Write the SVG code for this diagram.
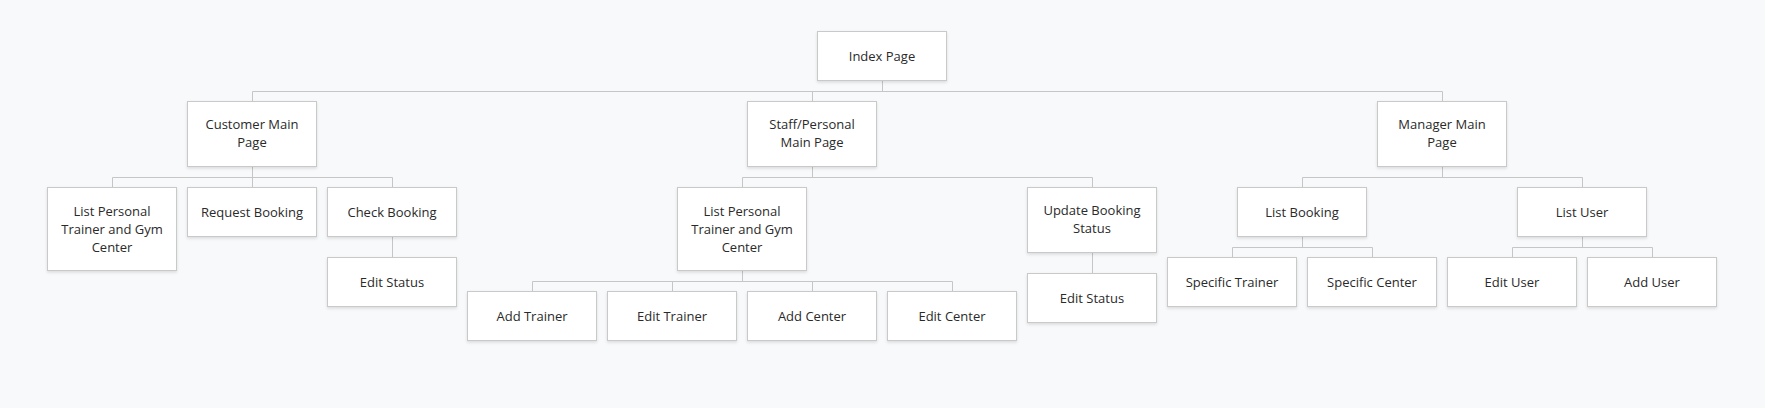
<svg xmlns="http://www.w3.org/2000/svg" width="1765" height="408" viewBox="0 0 1765 408">
<defs>
<filter id="sh" x="-10%" y="-10%" width="120%" height="130%">
<feDropShadow dx="0" dy="1.5" stdDeviation="1.8" flood-color="#000" flood-opacity="0.12"/>
</filter>
</defs>
<style>
.n rect{fill:#ffffff;stroke:#c9c9c9;stroke-width:1;filter:url(#sh)}
.n text{font-family:"Open Sans","Noto Sans",sans-serif;font-size:13px;fill:#2a2a2a;text-anchor:middle}
#connectors path{fill:none;stroke:#c6c6c6;stroke-width:1}
</style>
<rect x="0" y="0" width="1765" height="408" fill="#f8f9fb"/>
<g id="connectors">
<path d="M882.5 80.5V91.5M252.5 101.5V91.5H1442.5V101.5M812.5 91.5V101.5"/>
<path d="M252.5 166.5V177.5M112.5 187.5V177.5H392.5V187.5M252.5 177.5V187.5"/>
<path d="M392.5 236.5V257.5"/>
<path d="M812.5 166.5V177.5M742.5 187.5V177.5H1092.5V187.5"/>
<path d="M742.5 270.5V281.5M532.5 291.5V281.5H952.5V291.5M672.5 281.5V291.5M812.5 281.5V291.5"/>
<path d="M1092.5 252.5V273.5"/>
<path d="M1442.5 166.5V177.5M1302.5 187.5V177.5H1582.5V187.5"/>
<path d="M1302.5 236.5V247.5M1232.5 257.5V247.5H1372.5V257.5"/>
<path d="M1582.5 236.5V247.5M1512.5 257.5V247.5H1652.5V257.5"/>
</g>
<g id="index" class="n"><rect x="817.5" y="31.5" width="129" height="49"/><text x="882" y="60.5">Index Page</text></g>
<g id="customer-main" class="n"><rect x="187.5" y="101.5" width="129" height="65"/><text x="252" y="129">Customer Main</text><text x="252" y="147">Page</text></g>
<g id="staff-main" class="n"><rect x="747.5" y="101.5" width="129" height="65"/><text x="812" y="129">Staff/Personal</text><text x="812" y="147">Main Page</text></g>
<g id="manager-main" class="n"><rect x="1377.5" y="101.5" width="129" height="65"/><text x="1442" y="129">Manager Main</text><text x="1442" y="147">Page</text></g>
<g id="cust-list" class="n"><rect x="47.5" y="187.5" width="129" height="83"/><text x="112" y="215.5">List Personal</text><text x="112" y="233.5">Trainer and Gym</text><text x="112" y="251.5">Center</text></g>
<g id="cust-request" class="n"><rect x="187.5" y="187.5" width="129" height="49"/><text x="252" y="216.5">Request Booking</text></g>
<g id="cust-check" class="n"><rect x="327.5" y="187.5" width="129" height="49"/><text x="392" y="216.5">Check Booking</text></g>
<g id="cust-edit-status" class="n"><rect x="327.5" y="257.5" width="129" height="49"/><text x="392" y="286.5">Edit Status</text></g>
<g id="staff-list" class="n"><rect x="677.5" y="187.5" width="129" height="83"/><text x="742" y="215.5">List Personal</text><text x="742" y="233.5">Trainer and Gym</text><text x="742" y="251.5">Center</text></g>
<g id="staff-update" class="n"><rect x="1027.5" y="187.5" width="129" height="65"/><text x="1092" y="215">Update Booking</text><text x="1092" y="233">Status</text></g>
<g id="staff-edit-status" class="n"><rect x="1027.5" y="273.5" width="129" height="49"/><text x="1092" y="302.5">Edit Status</text></g>
<g id="add-trainer" class="n"><rect x="467.5" y="291.5" width="129" height="49"/><text x="532" y="320.5">Add Trainer</text></g>
<g id="edit-trainer" class="n"><rect x="607.5" y="291.5" width="129" height="49"/><text x="672" y="320.5">Edit Trainer</text></g>
<g id="add-center" class="n"><rect x="747.5" y="291.5" width="129" height="49"/><text x="812" y="320.5">Add Center</text></g>
<g id="edit-center" class="n"><rect x="887.5" y="291.5" width="129" height="49"/><text x="952" y="320.5">Edit Center</text></g>
<g id="list-booking" class="n"><rect x="1237.5" y="187.5" width="129" height="49"/><text x="1302" y="216.5">List Booking</text></g>
<g id="list-user" class="n"><rect x="1517.5" y="187.5" width="129" height="49"/><text x="1582" y="216.5">List User</text></g>
<g id="specific-trainer" class="n"><rect x="1167.5" y="257.5" width="129" height="49"/><text x="1232" y="286.5">Specific Trainer</text></g>
<g id="specific-center" class="n"><rect x="1307.5" y="257.5" width="129" height="49"/><text x="1372" y="286.5">Specific Center</text></g>
<g id="edit-user" class="n"><rect x="1447.5" y="257.5" width="129" height="49"/><text x="1512" y="286.5">Edit User</text></g>
<g id="add-user" class="n"><rect x="1587.5" y="257.5" width="129" height="49"/><text x="1652" y="286.5">Add User</text></g>
</svg>
